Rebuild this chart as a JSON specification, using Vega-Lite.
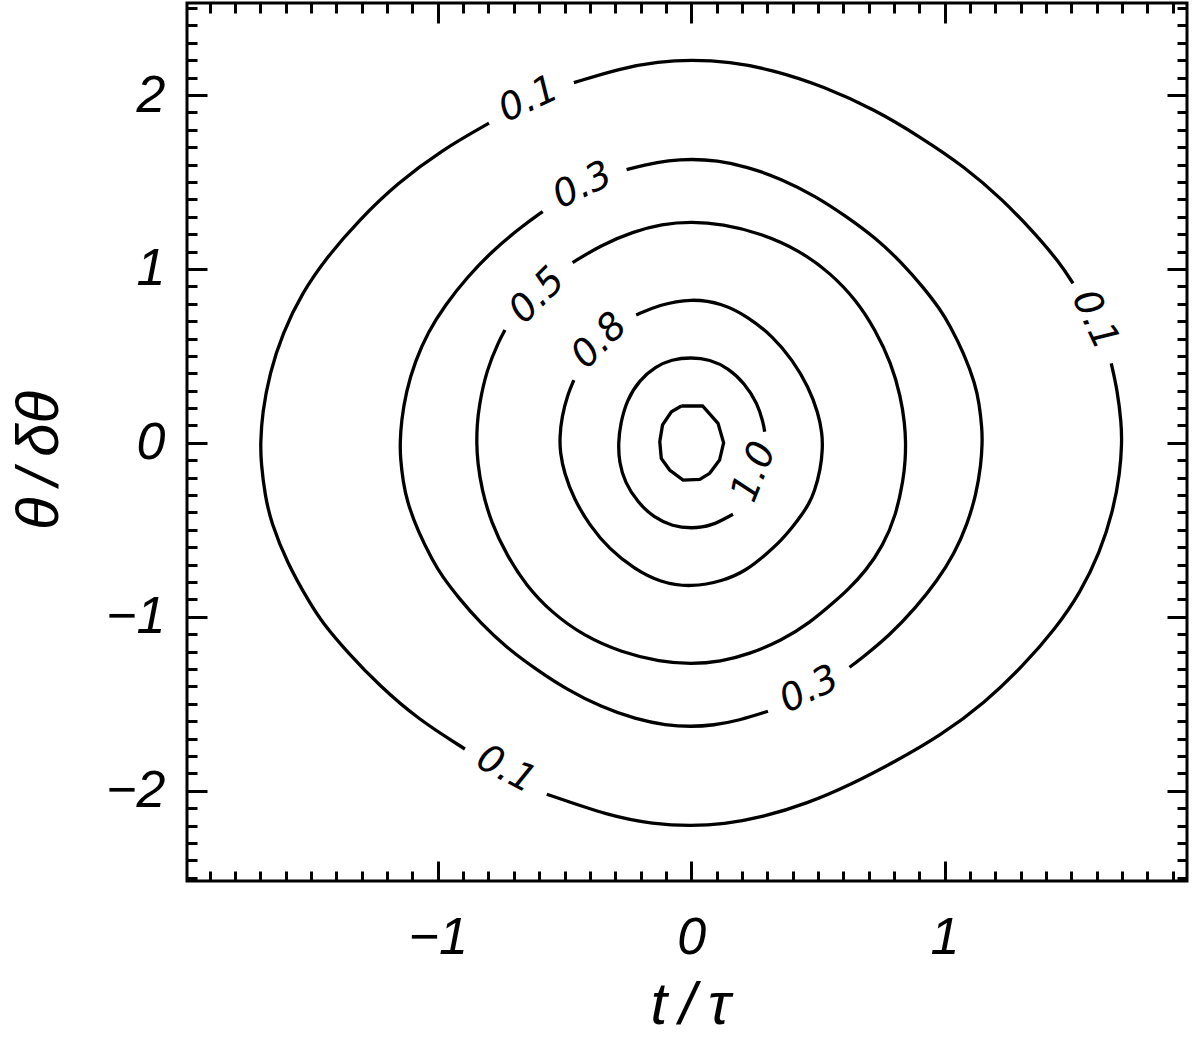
{
  "$schema": "https://vega.github.io/schema/vega-lite/v6.json",
  "width": 1000,
  "height": 878,
  "autosize": {"type": "none"},
  "padding": {"left": 187, "top": 3, "right": 13, "bottom": 159},
  "background": "white",
  "config": {
    "view": {"stroke": "#000", "strokeWidth": 3},
    "axis": {
      "grid": false, "domain": false, "tickColor": "#000", "tickWidth": 3,
      "labelFont": "Liberation Sans", "labelFontStyle": "italic", "labelFontSize": 52, "labelColor": "#000",
      "titleFont": "Liberation Sans", "titleFontStyle": "italic", "titleFontWeight": "normal", "titleFontSize": 60, "titleColor": "#000",
      "labelFlush": false, "labelOverlap": false
    }
  },
  "resolve": {"axis": {"x": "independent", "y": "independent"}},
  "datasets": {
    "contours": [
      {"seg": "1a", "o": 1, "t": -0.463, "theta": 2.071},
      {"seg": "1a", "o": 2, "t": -0.279, "theta": 2.154},
      {"seg": "1a", "o": 3, "t": -0.128, "theta": 2.192},
      {"seg": "1a", "o": 4, "t": 0.0, "theta": 2.202},
      {"seg": "1a", "o": 5, "t": 0.148, "theta": 2.192},
      {"seg": "1a", "o": 6, "t": 0.324, "theta": 2.144},
      {"seg": "1a", "o": 7, "t": 0.526, "theta": 2.048},
      {"seg": "1a", "o": 8, "t": 0.727, "theta": 1.914},
      {"seg": "1a", "o": 9, "t": 0.903, "theta": 1.76},
      {"seg": "1a", "o": 10, "t": 1.079, "theta": 1.588},
      {"seg": "1a", "o": 11, "t": 1.23, "theta": 1.397},
      {"seg": "1a", "o": 12, "t": 1.356, "theta": 1.205},
      {"seg": "1a", "o": 13, "t": 1.456, "theta": 1.033},
      {"seg": "1a", "o": 14, "t": 1.507, "theta": 0.917},
      {"seg": "1b", "o": 1, "t": 1.658, "theta": 0.457},
      {"seg": "1b", "o": 2, "t": 1.682, "theta": 0.304},
      {"seg": "1b", "o": 3, "t": 1.698, "theta": 0.112},
      {"seg": "1b", "o": 4, "t": 1.7, "theta": 0.0},
      {"seg": "1b", "o": 5, "t": 1.693, "theta": -0.17},
      {"seg": "1b", "o": 6, "t": 1.664, "theta": -0.4},
      {"seg": "1b", "o": 7, "t": 1.613, "theta": -0.63},
      {"seg": "1b", "o": 8, "t": 1.537, "theta": -0.86},
      {"seg": "1b", "o": 9, "t": 1.437, "theta": -1.07},
      {"seg": "1b", "o": 10, "t": 1.311, "theta": -1.281},
      {"seg": "1b", "o": 11, "t": 1.16, "theta": -1.493},
      {"seg": "1b", "o": 12, "t": 0.984, "theta": -1.684},
      {"seg": "1b", "o": 13, "t": 0.798, "theta": -1.838},
      {"seg": "1b", "o": 14, "t": 0.63, "theta": -1.965},
      {"seg": "1b", "o": 15, "t": 0.463, "theta": -2.071},
      {"seg": "1b", "o": 16, "t": 0.279, "theta": -2.154},
      {"seg": "1b", "o": 17, "t": 0.128, "theta": -2.192},
      {"seg": "1b", "o": 18, "t": 0.0, "theta": -2.202},
      {"seg": "1b", "o": 19, "t": -0.148, "theta": -2.192},
      {"seg": "1b", "o": 20, "t": -0.324, "theta": -2.144},
      {"seg": "1b", "o": 21, "t": -0.57, "theta": -2.02},
      {"seg": "1c", "o": 1, "t": -0.893, "theta": -1.76},
      {"seg": "1c", "o": 2, "t": -1.079, "theta": -1.588},
      {"seg": "1c", "o": 3, "t": -1.23, "theta": -1.397},
      {"seg": "1c", "o": 4, "t": -1.356, "theta": -1.205},
      {"seg": "1c", "o": 5, "t": -1.456, "theta": -1.033},
      {"seg": "1c", "o": 6, "t": -1.507, "theta": -0.917},
      {"seg": "1c", "o": 7, "t": -1.595, "theta": -0.69},
      {"seg": "1c", "o": 8, "t": -1.658, "theta": -0.457},
      {"seg": "1c", "o": 9, "t": -1.682, "theta": -0.304},
      {"seg": "1c", "o": 10, "t": -1.698, "theta": -0.112},
      {"seg": "1c", "o": 11, "t": -1.7, "theta": 0.0},
      {"seg": "1c", "o": 12, "t": -1.693, "theta": 0.17},
      {"seg": "1c", "o": 13, "t": -1.664, "theta": 0.4},
      {"seg": "1c", "o": 14, "t": -1.613, "theta": 0.63},
      {"seg": "1c", "o": 15, "t": -1.537, "theta": 0.86},
      {"seg": "1c", "o": 16, "t": -1.437, "theta": 1.07},
      {"seg": "1c", "o": 17, "t": -1.311, "theta": 1.281},
      {"seg": "1c", "o": 18, "t": -1.16, "theta": 1.493},
      {"seg": "1c", "o": 19, "t": -0.984, "theta": 1.684},
      {"seg": "1c", "o": 20, "t": -0.798, "theta": 1.838},
      {"seg": "3a", "o": 1, "t": -0.255, "theta": 1.571},
      {"seg": "3a", "o": 2, "t": -0.189, "theta": 1.596},
      {"seg": "3a", "o": 3, "t": -0.087, "theta": 1.624},
      {"seg": "3a", "o": 4, "t": 0.0, "theta": 1.632},
      {"seg": "3a", "o": 5, "t": 0.1, "theta": 1.624},
      {"seg": "3a", "o": 6, "t": 0.219, "theta": 1.589},
      {"seg": "3a", "o": 7, "t": 0.356, "theta": 1.518},
      {"seg": "3a", "o": 8, "t": 0.491, "theta": 1.418},
      {"seg": "3a", "o": 9, "t": 0.61, "theta": 1.304},
      {"seg": "3a", "o": 10, "t": 0.729, "theta": 1.177},
      {"seg": "3a", "o": 11, "t": 0.832, "theta": 1.035},
      {"seg": "3a", "o": 12, "t": 0.917, "theta": 0.893},
      {"seg": "3a", "o": 13, "t": 0.984, "theta": 0.765},
      {"seg": "3a", "o": 14, "t": 1.019, "theta": 0.68},
      {"seg": "3a", "o": 15, "t": 1.078, "theta": 0.511},
      {"seg": "3a", "o": 16, "t": 1.121, "theta": 0.339},
      {"seg": "3a", "o": 17, "t": 1.137, "theta": 0.225},
      {"seg": "3a", "o": 18, "t": 1.148, "theta": 0.083},
      {"seg": "3a", "o": 19, "t": 1.149, "theta": 0.0},
      {"seg": "3a", "o": 20, "t": 1.144, "theta": -0.126},
      {"seg": "3a", "o": 21, "t": 1.125, "theta": -0.296},
      {"seg": "3a", "o": 22, "t": 1.09, "theta": -0.467},
      {"seg": "3a", "o": 23, "t": 1.039, "theta": -0.637},
      {"seg": "3a", "o": 24, "t": 0.971, "theta": -0.793},
      {"seg": "3a", "o": 25, "t": 0.886, "theta": -0.949},
      {"seg": "3a", "o": 26, "t": 0.784, "theta": -1.106},
      {"seg": "3a", "o": 27, "t": 0.665, "theta": -1.248},
      {"seg": "3a", "o": 28, "t": 0.625, "theta": -1.29},
      {"seg": "3b", "o": 1, "t": 0.303, "theta": -1.543},
      {"seg": "3b", "o": 2, "t": 0.189, "theta": -1.596},
      {"seg": "3b", "o": 3, "t": 0.087, "theta": -1.624},
      {"seg": "3b", "o": 4, "t": 0.0, "theta": -1.632},
      {"seg": "3b", "o": 5, "t": -0.1, "theta": -1.624},
      {"seg": "3b", "o": 6, "t": -0.219, "theta": -1.589},
      {"seg": "3b", "o": 7, "t": -0.356, "theta": -1.518},
      {"seg": "3b", "o": 8, "t": -0.491, "theta": -1.418},
      {"seg": "3b", "o": 9, "t": -0.61, "theta": -1.304},
      {"seg": "3b", "o": 10, "t": -0.729, "theta": -1.177},
      {"seg": "3b", "o": 11, "t": -0.832, "theta": -1.035},
      {"seg": "3b", "o": 12, "t": -0.917, "theta": -0.893},
      {"seg": "3b", "o": 13, "t": -0.984, "theta": -0.765},
      {"seg": "3b", "o": 14, "t": -1.019, "theta": -0.68},
      {"seg": "3b", "o": 15, "t": -1.078, "theta": -0.511},
      {"seg": "3b", "o": 16, "t": -1.121, "theta": -0.339},
      {"seg": "3b", "o": 17, "t": -1.137, "theta": -0.225},
      {"seg": "3b", "o": 18, "t": -1.148, "theta": -0.083},
      {"seg": "3b", "o": 19, "t": -1.149, "theta": 0.0},
      {"seg": "3b", "o": 20, "t": -1.144, "theta": 0.126},
      {"seg": "3b", "o": 21, "t": -1.125, "theta": 0.296},
      {"seg": "3b", "o": 22, "t": -1.09, "theta": 0.467},
      {"seg": "3b", "o": 23, "t": -1.039, "theta": 0.637},
      {"seg": "3b", "o": 24, "t": -0.971, "theta": 0.793},
      {"seg": "3b", "o": 25, "t": -0.886, "theta": 0.949},
      {"seg": "3b", "o": 26, "t": -0.784, "theta": 1.106},
      {"seg": "3b", "o": 27, "t": -0.665, "theta": 1.248},
      {"seg": "3b", "o": 28, "t": -0.586, "theta": 1.33},
      {"seg": "5", "o": 1, "t": -0.468, "theta": 1.036},
      {"seg": "5", "o": 2, "t": -0.355, "theta": 1.138},
      {"seg": "5", "o": 3, "t": -0.229, "theta": 1.214},
      {"seg": "5", "o": 4, "t": -0.116, "theta": 1.258},
      {"seg": "5", "o": 5, "t": 0.0, "theta": 1.272},
      {"seg": "5", "o": 6, "t": 0.123, "theta": 1.258},
      {"seg": "5", "o": 7, "t": 0.274, "theta": 1.205},
      {"seg": "5", "o": 8, "t": 0.425, "theta": 1.109},
      {"seg": "5", "o": 9, "t": 0.551, "theta": 0.975},
      {"seg": "5", "o": 10, "t": 0.651, "theta": 0.821},
      {"seg": "5", "o": 11, "t": 0.727, "theta": 0.649},
      {"seg": "5", "o": 12, "t": 0.79, "theta": 0.457},
      {"seg": "5", "o": 13, "t": 0.827, "theta": 0.265},
      {"seg": "5", "o": 14, "t": 0.843, "theta": 0.112},
      {"seg": "5", "o": 15, "t": 0.847, "theta": 0.0},
      {"seg": "5", "o": 16, "t": 0.845, "theta": -0.1},
      {"seg": "5", "o": 17, "t": 0.838, "theta": -0.208},
      {"seg": "5", "o": 18, "t": 0.808, "theta": -0.419},
      {"seg": "5", "o": 19, "t": 0.757, "theta": -0.591},
      {"seg": "5", "o": 20, "t": 0.69, "theta": -0.735},
      {"seg": "5", "o": 21, "t": 0.615, "theta": -0.85},
      {"seg": "5", "o": 22, "t": 0.573, "theta": -0.904},
      {"seg": "5", "o": 23, "t": 0.468, "theta": -1.036},
      {"seg": "5", "o": 24, "t": 0.355, "theta": -1.138},
      {"seg": "5", "o": 25, "t": 0.229, "theta": -1.214},
      {"seg": "5", "o": 26, "t": 0.116, "theta": -1.258},
      {"seg": "5", "o": 27, "t": 0.0, "theta": -1.272},
      {"seg": "5", "o": 28, "t": -0.123, "theta": -1.258},
      {"seg": "5", "o": 29, "t": -0.274, "theta": -1.205},
      {"seg": "5", "o": 30, "t": -0.425, "theta": -1.109},
      {"seg": "5", "o": 31, "t": -0.551, "theta": -0.975},
      {"seg": "5", "o": 32, "t": -0.651, "theta": -0.821},
      {"seg": "5", "o": 33, "t": -0.727, "theta": -0.649},
      {"seg": "5", "o": 34, "t": -0.79, "theta": -0.457},
      {"seg": "5", "o": 35, "t": -0.827, "theta": -0.265},
      {"seg": "5", "o": 36, "t": -0.843, "theta": -0.112},
      {"seg": "5", "o": 37, "t": -0.847, "theta": 0.0},
      {"seg": "5", "o": 38, "t": -0.845, "theta": 0.1},
      {"seg": "5", "o": 39, "t": -0.838, "theta": 0.208},
      {"seg": "5", "o": 40, "t": -0.808, "theta": 0.419},
      {"seg": "5", "o": 41, "t": -0.757, "theta": 0.591},
      {"seg": "5", "o": 42, "t": -0.735, "theta": 0.649},
      {"seg": "8", "o": 1, "t": -0.217, "theta": 0.735},
      {"seg": "8", "o": 2, "t": -0.128, "theta": 0.793},
      {"seg": "8", "o": 3, "t": 0.0, "theta": 0.831},
      {"seg": "8", "o": 4, "t": 0.123, "theta": 0.802},
      {"seg": "8", "o": 5, "t": 0.224, "theta": 0.725},
      {"seg": "8", "o": 6, "t": 0.324, "theta": 0.61},
      {"seg": "8", "o": 7, "t": 0.4, "theta": 0.476},
      {"seg": "8", "o": 8, "t": 0.463, "theta": 0.323},
      {"seg": "8", "o": 9, "t": 0.502, "theta": 0.17},
      {"seg": "8", "o": 10, "t": 0.517, "theta": 0.055},
      {"seg": "8", "o": 11, "t": 0.519, "theta": -0.03},
      {"seg": "8", "o": 12, "t": 0.511, "theta": -0.15},
      {"seg": "8", "o": 13, "t": 0.486, "theta": -0.285},
      {"seg": "8", "o": 14, "t": 0.463, "theta": -0.355},
      {"seg": "8", "o": 15, "t": 0.438, "theta": -0.41},
      {"seg": "8", "o": 16, "t": 0.4, "theta": -0.485},
      {"seg": "8", "o": 17, "t": 0.354, "theta": -0.563},
      {"seg": "8", "o": 18, "t": 0.3, "theta": -0.635},
      {"seg": "8", "o": 19, "t": 0.217, "theta": -0.735},
      {"seg": "8", "o": 20, "t": 0.128, "theta": -0.793},
      {"seg": "8", "o": 21, "t": 0.0, "theta": -0.831},
      {"seg": "8", "o": 22, "t": -0.123, "theta": -0.802},
      {"seg": "8", "o": 23, "t": -0.224, "theta": -0.725},
      {"seg": "8", "o": 24, "t": -0.324, "theta": -0.61},
      {"seg": "8", "o": 25, "t": -0.4, "theta": -0.476},
      {"seg": "8", "o": 26, "t": -0.463, "theta": -0.323},
      {"seg": "8", "o": 27, "t": -0.502, "theta": -0.17},
      {"seg": "8", "o": 28, "t": -0.517, "theta": -0.055},
      {"seg": "8", "o": 29, "t": -0.519, "theta": 0.03},
      {"seg": "8", "o": 30, "t": -0.511, "theta": 0.15},
      {"seg": "8", "o": 31, "t": -0.486, "theta": 0.285},
      {"seg": "8", "o": 32, "t": -0.463, "theta": 0.361},
      {"seg": "10", "o": 1, "t": 0.165, "theta": -0.41},
      {"seg": "10", "o": 2, "t": 0.078, "theta": -0.48},
      {"seg": "10", "o": 3, "t": 0.0, "theta": -0.492},
      {"seg": "10", "o": 4, "t": -0.073, "theta": -0.48},
      {"seg": "10", "o": 5, "t": -0.148, "theta": -0.429},
      {"seg": "10", "o": 6, "t": -0.211, "theta": -0.342},
      {"seg": "10", "o": 7, "t": -0.262, "theta": -0.227},
      {"seg": "10", "o": 8, "t": -0.284, "theta": -0.112},
      {"seg": "10", "o": 9, "t": -0.288, "theta": 0.0},
      {"seg": "10", "o": 10, "t": -0.279, "theta": 0.112},
      {"seg": "10", "o": 11, "t": -0.254, "theta": 0.246},
      {"seg": "10", "o": 12, "t": -0.204, "theta": 0.361},
      {"seg": "10", "o": 13, "t": -0.141, "theta": 0.438},
      {"seg": "10", "o": 14, "t": -0.078, "theta": 0.48},
      {"seg": "10", "o": 15, "t": 0.0, "theta": 0.492},
      {"seg": "10", "o": 16, "t": 0.073, "theta": 0.48},
      {"seg": "10", "o": 17, "t": 0.148, "theta": 0.429},
      {"seg": "10", "o": 18, "t": 0.211, "theta": 0.342},
      {"seg": "10", "o": 19, "t": 0.262, "theta": 0.227},
      {"seg": "10", "o": 20, "t": 0.285, "theta": 0.112},
      {"seg": "10", "o": 21, "t": 0.29, "theta": 0.064}
    ],
    "inner": [
      {"o": 1, "t": -0.039, "theta": 0.212},
      {"o": 2, "t": 0.045, "theta": 0.212},
      {"o": 3, "t": 0.106, "theta": 0.112},
      {"o": 4, "t": 0.128, "theta": 0.0},
      {"o": 5, "t": 0.112, "theta": -0.099},
      {"o": 6, "t": 0.073, "theta": -0.175},
      {"o": 7, "t": 0.034, "theta": -0.21},
      {"o": 8, "t": -0.032, "theta": -0.214},
      {"o": 9, "t": -0.085, "theta": -0.156},
      {"o": 10, "t": -0.118, "theta": -0.089},
      {"o": 11, "t": -0.124, "theta": 0.007},
      {"o": 12, "t": -0.113, "theta": 0.103},
      {"o": 13, "t": -0.078, "theta": 0.179},
      {"o": 14, "t": -0.039, "theta": 0.212}
    ]
  },
  "layer": [
    {
      "data": {"name": "contours"},
      "mark": {"type": "line", "interpolate": "basis", "color": "#000", "strokeWidth": 3.3},
      "encoding": {
        "x": {"field": "t", "type": "quantitative", "scale": {"domain": [-1.99, 1.957], "nice": false, "zero": false},
              "axis": {"orient": "bottom", "values": [-1, 0, 1], "ticks": false, "labelPadding": 31, "title": "t\u2009/\u2009τ", "titleX": 503, "titleY": 142, "titleBaseline": "alphabetic", "titleAlign": "center"}},
        "y": {"field": "theta", "type": "quantitative", "scale": {"domain": [-2.519, 2.529], "nice": false, "zero": false},
              "axis": {"orient": "left", "values": [-2, -1, 0, 1, 2], "ticks": false, "labelPadding": 22, "title": "θ\u2009/\u2009δθ", "titleX": -130, "titleY": 457, "titleBaseline": "alphabetic", "titleAlign": "center", "titleAngle": 270}},
        "detail": {"field": "seg", "type": "nominal"},
        "order": {"field": "o", "type": "quantitative"}
      }
    },
    {
      "data": {"name": "inner"},
      "mark": {"type": "line", "interpolate": "linear", "color": "#000", "strokeWidth": 3.3},
      "encoding": {
        "x": {"field": "t", "type": "quantitative", "scale": {"domain": [-1.99, 1.957], "nice": false, "zero": false},
              "axis": {"orient": "bottom", "values": [-1, 0, 1], "labels": false, "tickSize": -20, "title": null}},
        "y": {"field": "theta", "type": "quantitative", "scale": {"domain": [-2.519, 2.529], "nice": false, "zero": false},
              "axis": {"orient": "left", "values": [-2, -1, 0, 1, 2], "labels": false, "tickSize": -20, "title": null}},
        "order": {"field": "o", "type": "quantitative"}
      }
    },
    {
      "data": {"values": [{"t": -0.641, "theta": 1.972, "lab": "0.1"}]},
      "mark": {"type": "text", "angle": -25, "font": "DejaVu Sans", "fontWeight": 200, "fontStyle": "italic", "fontSize": 38, "align": "center", "baseline": "middle", "color": "#000"},
      "encoding": {
        "x": {"field": "t", "type": "quantitative", "scale": {"domain": [-1.99, 1.957], "nice": false, "zero": false},
              "axis": {"orient": "bottom", "values": [-1.9,-1.8,-1.7,-1.6,-1.5,-1.4,-1.3,-1.2,-1.1,-1,-0.9,-0.8,-0.7,-0.6,-0.5,-0.4,-0.3,-0.2,-0.1,0,0.1,0.2,0.3,0.4,0.5,0.6,0.7,0.8,0.9,1,1.1,1.2,1.3,1.4,1.5,1.6,1.7,1.8,1.9], "labels": false, "tickSize": -10, "title": null}},
        "y": {"field": "theta", "type": "quantitative", "scale": {"domain": [-2.519, 2.529], "nice": false, "zero": false},
              "axis": {"orient": "left", "values": [-2.5,-2.4,-2.3,-2.2,-2.1,-2,-1.9,-1.8,-1.7,-1.6,-1.5,-1.4,-1.3,-1.2,-1.1,-1,-0.9,-0.8,-0.7,-0.6,-0.5,-0.4,-0.3,-0.2,-0.1,0,0.1,0.2,0.3,0.4,0.5,0.6,0.7,0.8,0.9,1,1.1,1.2,1.3,1.4,1.5,1.6,1.7,1.8,1.9,2,2.1,2.2,2.3,2.4,2.5], "labels": false, "tickSize": -10, "title": null}},
        "text": {"field": "lab", "type": "nominal"}
      }
    },
    {
      "data": {"values": [{"t": -0.428, "theta": 1.477, "lab": "0.3"}]},
      "mark": {"type": "text", "angle": -26, "font": "DejaVu Sans", "fontWeight": 200, "fontStyle": "italic", "fontSize": 38, "align": "center", "baseline": "middle", "color": "#000"},
      "encoding": {
        "x": {"field": "t", "type": "quantitative", "scale": {"domain": [-1.99, 1.957], "nice": false, "zero": false},
              "axis": {"orient": "top", "values": [-1, 0, 1], "labels": false, "tickSize": -20, "title": null}},
        "y": {"field": "theta", "type": "quantitative", "scale": {"domain": [-2.519, 2.529], "nice": false, "zero": false},
              "axis": {"orient": "right", "values": [-2, -1, 0, 1, 2], "labels": false, "tickSize": -20, "title": null}},
        "text": {"field": "lab", "type": "nominal"}
      }
    },
    {
      "data": {"values": [{"t": -0.606, "theta": 0.844, "lab": "0.5"}]},
      "mark": {"type": "text", "angle": -45, "font": "DejaVu Sans", "fontWeight": 200, "fontStyle": "italic", "fontSize": 38, "align": "center", "baseline": "middle", "color": "#000"},
      "encoding": {
        "x": {"field": "t", "type": "quantitative", "scale": {"domain": [-1.99, 1.957], "nice": false, "zero": false},
              "axis": {"orient": "top", "values": [-1.9,-1.8,-1.7,-1.6,-1.5,-1.4,-1.3,-1.2,-1.1,-1,-0.9,-0.8,-0.7,-0.6,-0.5,-0.4,-0.3,-0.2,-0.1,0,0.1,0.2,0.3,0.4,0.5,0.6,0.7,0.8,0.9,1,1.1,1.2,1.3,1.4,1.5,1.6,1.7,1.8,1.9], "labels": false, "tickSize": -10, "title": null}},
        "y": {"field": "theta", "type": "quantitative", "scale": {"domain": [-2.519, 2.529], "nice": false, "zero": false},
              "axis": {"orient": "right", "values": [-2.5,-2.4,-2.3,-2.2,-2.1,-2,-1.9,-1.8,-1.7,-1.6,-1.5,-1.4,-1.3,-1.2,-1.1,-1,-0.9,-0.8,-0.7,-0.6,-0.5,-0.4,-0.3,-0.2,-0.1,0,0.1,0.2,0.3,0.4,0.5,0.6,0.7,0.8,0.9,1,1.1,1.2,1.3,1.4,1.5,1.6,1.7,1.8,1.9,2,2.1,2.2,2.3,2.4,2.5], "labels": false, "tickSize": -10, "title": null}},
        "text": {"field": "lab", "type": "nominal"}
      }
    },
    {
      "data": {"values": [{"t": -0.361, "theta": 0.585, "lab": "0.8"}]},
      "mark": {"type": "text", "angle": -45, "font": "DejaVu Sans", "fontWeight": 200, "fontStyle": "italic", "fontSize": 38, "align": "center", "baseline": "middle", "color": "#000"},
      "encoding": {
        "x": {"field": "t", "type": "quantitative", "scale": {"domain": [-1.99, 1.957], "nice": false, "zero": false}, "axis": null},
        "y": {"field": "theta", "type": "quantitative", "scale": {"domain": [-2.519, 2.529], "nice": false, "zero": false}, "axis": null},
        "text": {"field": "lab", "type": "nominal"}
      }
    },
    {
      "data": {"values": [{"t": 0.25, "theta": -0.168, "lab": "1.0"}]},
      "mark": {"type": "text", "angle": -68, "font": "DejaVu Sans", "fontWeight": 200, "fontStyle": "italic", "fontSize": 38, "align": "center", "baseline": "middle", "color": "#000"},
      "encoding": {
        "x": {"field": "t", "type": "quantitative", "scale": {"domain": [-1.99, 1.957], "nice": false, "zero": false}, "axis": null},
        "y": {"field": "theta", "type": "quantitative", "scale": {"domain": [-2.519, 2.529], "nice": false, "zero": false}, "axis": null},
        "text": {"field": "lab", "type": "nominal"}
      }
    },
    {
      "data": {"values": [{"t": 1.592, "theta": 0.706, "lab": "0.1"}]},
      "mark": {"type": "text", "angle": 65, "font": "DejaVu Sans", "fontWeight": 200, "fontStyle": "italic", "fontSize": 38, "align": "center", "baseline": "middle", "color": "#000"},
      "encoding": {
        "x": {"field": "t", "type": "quantitative", "scale": {"domain": [-1.99, 1.957], "nice": false, "zero": false}, "axis": null},
        "y": {"field": "theta", "type": "quantitative", "scale": {"domain": [-2.519, 2.529], "nice": false, "zero": false}, "axis": null},
        "text": {"field": "lab", "type": "nominal"}
      }
    },
    {
      "data": {"values": [{"t": 0.467, "theta": -1.421, "lab": "0.3"}]},
      "mark": {"type": "text", "angle": -26, "font": "DejaVu Sans", "fontWeight": 200, "fontStyle": "italic", "fontSize": 38, "align": "center", "baseline": "middle", "color": "#000"},
      "encoding": {
        "x": {"field": "t", "type": "quantitative", "scale": {"domain": [-1.99, 1.957], "nice": false, "zero": false}, "axis": null},
        "y": {"field": "theta", "type": "quantitative", "scale": {"domain": [-2.519, 2.529], "nice": false, "zero": false}, "axis": null},
        "text": {"field": "lab", "type": "nominal"}
      }
    },
    {
      "data": {"values": [{"t": -0.732, "theta": -1.881, "lab": "0.1"}]},
      "mark": {"type": "text", "angle": 28, "font": "DejaVu Sans", "fontWeight": 200, "fontStyle": "italic", "fontSize": 38, "align": "center", "baseline": "middle", "color": "#000"},
      "encoding": {
        "x": {"field": "t", "type": "quantitative", "scale": {"domain": [-1.99, 1.957], "nice": false, "zero": false}, "axis": null},
        "y": {"field": "theta", "type": "quantitative", "scale": {"domain": [-2.519, 2.529], "nice": false, "zero": false}, "axis": null},
        "text": {"field": "lab", "type": "nominal"}
      }
    }
  ]
}
